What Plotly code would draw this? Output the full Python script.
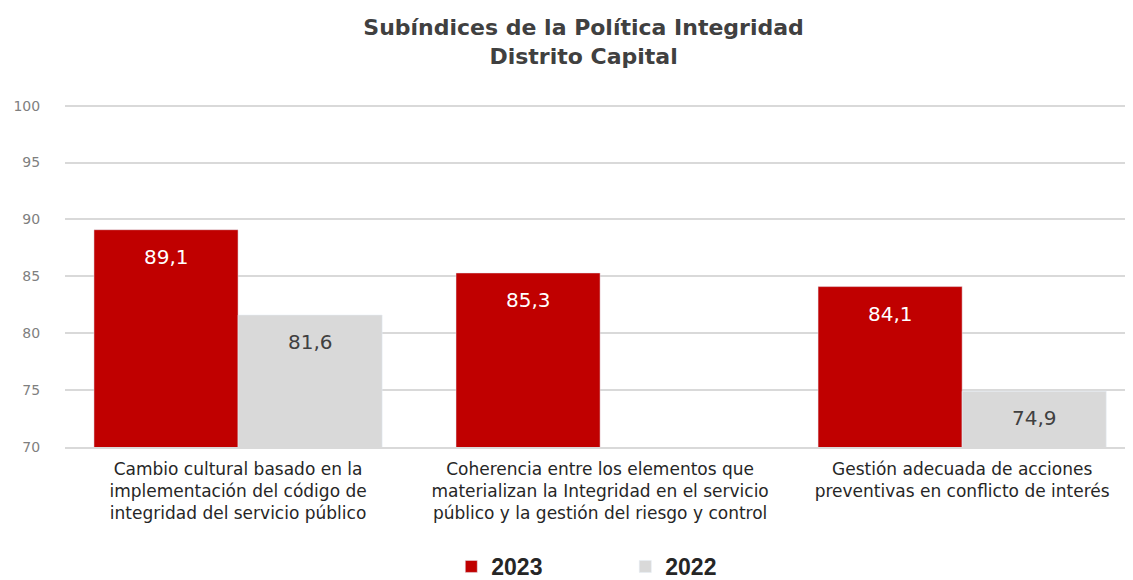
import plotly.graph_objects as go

categories = [
    "Cambio cultural basado en la<br>implementación del código de<br>integridad del servicio público",
    "Coherencia entre los elementos que<br>materializan la Integridad en el servicio<br>público y la gestión del riesgo y control",
    "Gestión adecuada de acciones<br>preventivas en conflicto de interés",
]
values_2023 = [89.1, 85.3, 84.1]
values_2022 = [81.6, None, 74.9]

RED = "#c00000"
GREY = "#d9d9d9"
FONT = "DejaVu Sans"

fig = go.Figure()
fig.add_trace(go.Bar(name="<b>2023</b>", x=categories, y=values_2023,
                     marker=dict(color=RED)))
fig.add_trace(go.Bar(name="<b>2022</b>", x=categories, y=values_2022,
                     marker=dict(color=GREY)))

# data labels placed just below the top of each bar
annotations = []
for i, (v23, v22) in enumerate(zip(values_2023, values_2022)):
    annotations.append(dict(x=i - 0.199, y=v23, yshift=-27, showarrow=False,
                            text=f"{v23:.1f}".replace(".", ","),
                            font=dict(family=FONT, size=20, color="white")))
    if v22 is not None:
        annotations.append(dict(x=i + 0.199, y=v22, yshift=-27, showarrow=False,
                                text=f"{v22:.1f}".replace(".", ","),
                                font=dict(family=FONT, size=20, color="#404040")))

fig.update_layout(
    width=1133, height=580,
    barmode="group", bargap=0.204, bargroupgap=0,
    plot_bgcolor="white", paper_bgcolor="white",
    margin=dict(l=57, r=0, t=96, b=141),
    title=dict(text="<b>Subíndices de la Política Integridad<br>Distrito Capital</b>",
               x=0.508, xanchor="center", yref="container", y=1 - 27 / 580,
               yanchor="top",
               font=dict(family=FONT, size=22, color="#404040")),
    yaxis=dict(range=[70, 100.15], tickvals=[70, 75, 80, 85, 90, 95, 100],
               showgrid=True, gridcolor=GREY,
               gridwidth=1.5, zeroline=False, ticks="outside", ticklen=21,
               tickcolor="white",
               tickfont=dict(family=FONT, size=14, color="#7f7f7f")),
    xaxis=dict(range=[-0.478, 2.494], showline=True, linecolor=GREY, linewidth=1.5,
               ticks="outside", ticklen=6, tickcolor="white",
               tickfont=dict(family=FONT, size=17, color="#262626")),
    legend=dict(orientation="h", x=0.359, xanchor="left", y=-0.411, yanchor="bottom",
                entrywidth=129, font=dict(family="Liberation Sans", size=23,
                                          color="#262626")),
    annotations=annotations,
)

fig.write_html("out.html")
